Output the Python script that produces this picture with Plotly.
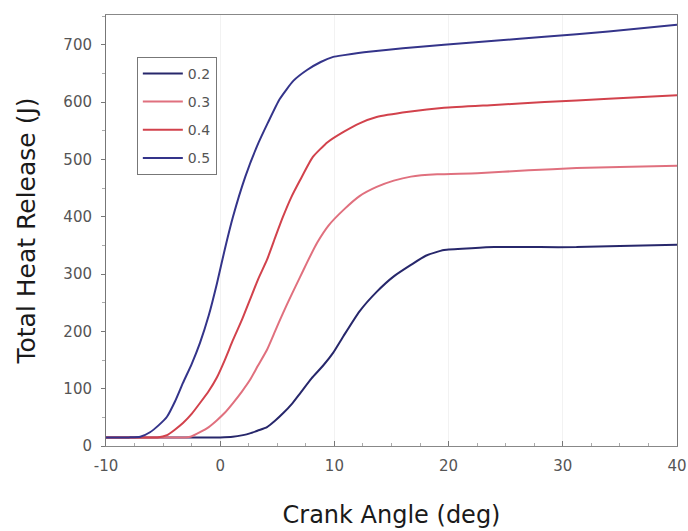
import plotly.graph_objects as go

# Crank angle (deg) sample points and total heat release (J) for each case
angle_02 = [-10, -4, 0, 1.1, 2, 2.6, 3.3, 4.1, 4.8, 5.5, 6.3, 7.0, 8, 9, 9.9, 10.8, 12.2, 13.7, 15.2, 16.7, 18, 19.6, 22, 24, 28, 31.2, 35, 40]
heat_02 = [15, 15, 15, 16, 19, 22, 27, 33, 44, 57, 74, 92, 118, 140, 163, 192, 235, 269, 296, 316, 332, 342, 345, 347, 347, 347, 349, 351]

angle_03 = [-10, -5, -3, -2.6, -1.77, -1, -0.28, 0.4, 1.12, 1.9, 2.6, 3.3, 4.1, 4.8, 5.5, 6.2, 7.0, 7.6, 8.5, 9.5, 10.8, 12.2, 13.7, 15.2, 16.7, 19, 22.5, 27, 31.2, 35, 40]
heat_03 = [15, 15, 15, 16, 24, 33, 45, 58, 75, 95, 115, 140, 168, 200, 232, 262, 295, 320, 355, 385, 412, 436, 452, 463, 470, 474, 476, 481, 485, 487, 489]

angle_04 = [-10, -7, -5.5, -4.66, -4, -3.26, -2.5, -1.77, -1, -0.28, 0.4, 1.12, 1.9, 2.6, 3.3, 4.1, 4.8, 5.5, 6.2, 7.0, 8.1, 9.4, 10.8, 12.2, 13.7, 16.5, 19.6, 24, 28.4, 34, 40]
heat_04 = [15, 15, 15, 19, 28, 40, 56, 75, 96, 120, 150, 185, 220, 255, 290, 325, 363, 400, 433, 464, 504, 530, 548, 563, 574, 583, 590, 595, 600, 606, 612]

angle_05 = [-10, -8, -7, -6.15, -5.4, -4.66, -3.95, -3.26, -2.5, -1.77, -1, -0.28, 0.4, 1.12, 2.2, 3.2, 4.2, 5.2, 6.4, 7.6, 8.8, 9.9, 10.84, 13, 16, 19.6, 24, 28.4, 34, 40]
heat_05 = [15, 15, 16, 24, 36, 51, 78, 110, 143, 180, 228, 284, 343, 400, 470, 522, 565, 605, 637, 656, 670, 679, 682, 688, 694, 700, 707, 714, 723, 735]

series_names = ["0.2", "0.3", "0.4", "0.5"]
series_colors = ["#27276b", "#e0707e", "#d2424c", "#34348a"]

x_ticks = [-10, 0, 10, 20, 30, 40]
y_ticks = [0, 100, 200, 300, 400, 500, 600, 700]

fig = go.Figure()
for name, xs, ys, color in zip(
    series_names,
    [angle_02, angle_03, angle_04, angle_05],
    [heat_02, heat_03, heat_04, heat_05],
    series_colors,
):
    fig.add_trace(go.Scatter(
        x=xs, y=ys, mode="lines", name=name, legendgroup=name,
        line=dict(color=color, width=2, shape="spline", smoothing=0.5),
    ))

tick_font = dict(family="DejaVu Sans, Verdana, sans-serif", size=15, color="#555555")
x_title_font = dict(family="DejaVu Sans, Verdana, sans-serif", size=24, color="#1a1a1a")
y_title_font = dict(family="DejaVu Sans, Verdana, sans-serif", size=25, color="#1a1a1a")

fig.update_layout(
    width=688, height=531,
    margin=dict(l=106, r=11, t=15, b=85),
    paper_bgcolor="white", plot_bgcolor="white",
    showlegend=True,
    legend=dict(
        x=0.054, y=0.903, xanchor="left", yanchor="top",
        bgcolor="white", bordercolor="#777777", borderwidth=1,
        font=dict(family="DejaVu Sans, Verdana, sans-serif", size=14, color="#555555"),
        itemwidth=40, tracegroupgap=7,
    ),
    xaxis=dict(
        range=[-10, 40], tickvals=x_ticks, ticktext=[str(v) for v in x_ticks],
        automargin=False,
        showgrid=True, gridcolor="#f2f2f2", gridwidth=1, zeroline=False,
        showline=True, linecolor="#888888", linewidth=1, mirror=True,
        ticks="inside", ticklen=5, tickcolor="#777777",
        minor=dict(ticks="inside", ticklen=3, dtick=2.5, tickcolor="#aaaaaa"),
        tickfont=tick_font, ticklabelstandoff=6,
        title=dict(text="Crank Angle (deg)", font=x_title_font, standoff=32),
    ),
    yaxis=dict(
        range=[0, 752], tickvals=y_ticks, ticktext=[str(v) for v in y_ticks],
        automargin=False,
        showgrid=False, zeroline=False,
        showline=True, linecolor="#777777", linewidth=1, mirror=True,
        ticks="outside", ticklen=4, tickcolor="#777777",
        minor=dict(ticks="outside", ticklen=3, dtick=50, tickcolor="#aaaaaa"),
        tickfont=tick_font, ticklabelstandoff=6,
        title=dict(text="Total Heat Release (J)", font=y_title_font, standoff=20),
    ),
)

fig.write_html("out.html")
